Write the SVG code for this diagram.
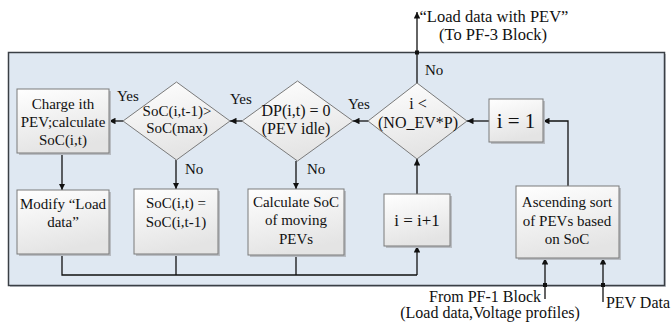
<svg xmlns="http://www.w3.org/2000/svg" width="672" height="322" viewBox="0 0 672 322" font-family="'Liberation Serif', serif">
<style>
text{font-family:'Liberation Serif',serif;font-size:15px;fill:#111}
.c{text-anchor:middle}
.box{fill:url(#g);stroke:#7a7a7a;stroke-width:1}
.sh{fill:#b8bcc2}
.ln{fill:none;stroke:#111;stroke-width:1.3}
.ar{fill:none;stroke:#111;stroke-width:1.3;marker-end:url(#ah)}
</style>
<defs>
<linearGradient id="g" x1="0" y1="0" x2="0.3" y2="1">
<stop offset="0" stop-color="#ffffff"/>
<stop offset="1" stop-color="#e4e4e4"/>
</linearGradient>
<marker id="ah" viewBox="0 0 10 10" refX="10" refY="5" markerWidth="5" markerHeight="5" orient="auto" markerUnits="strokeWidth">
<path d="M0,0 L10,5 L0,10 z" fill="#111"/>
</marker>
</defs>
<rect width="672" height="322" fill="#ffffff"/>
<g id="frame">
<rect x="10" y="54" width="656" height="233" fill="#c4c7cc"/>
<rect x="8.5" y="52.5" width="656" height="233" fill="#dfe8f2" stroke="#3a3f45" stroke-width="1.5"/>
</g>
<g id="connectors">
<path class="ar" d="M417,83 V12"/>
<rect x="415" y="50.5" width="4" height="4" fill="#111"/>
<path class="ar" d="M368,121 H353"/>
<path class="ar" d="M242,121 H230"/>
<path class="ar" d="M123,121 H109"/>
<path class="ar" d="M489,121 H467"/>
<path class="ar" d="M568,187 V121 H543"/>
<path class="ar" d="M62,153 V190"/>
<path class="ar" d="M176,160 V189"/>
<path class="ar" d="M296,161 V189"/>
<path class="ar" d="M417,194 V159"/>
<path class="ln" d="M62,254 V275 H417"/>
<path class="ln" d="M176,254 V275"/>
<path class="ln" d="M296,255 V275"/>
<path class="ar" d="M417,275 V246"/>
<path class="ar" d="M545,299 V258"/>
<path class="ar" d="M603,302 V258"/>
<rect x="543" y="283" width="4" height="4" fill="#111"/>
<rect x="601" y="283" width="4" height="4" fill="#111"/>
<text x="117" y="101">Yes</text>
<text x="230" y="104">Yes</text>
<text x="348" y="109">Yes</text>
<text x="185" y="174">No</text>
<text x="307" y="174">No</text>
<text x="425" y="75">No</text>
</g>
<g id="out-top">
<text x="494" y="22" class="c" style="font-size:16.5px">“Load data with PEV”</text>
<text x="493" y="40" class="c" style="font-size:16.5px">(To PF-3 Block)</text>
</g>
<g id="in-pf1">
<text x="541" y="302" text-anchor="end" style="font-size:16px">From PF-1 Block</text>
<text x="490" y="318" class="c" style="font-size:16px">(Load data,Voltage profiles)</text>
</g>
<g id="in-pev">
<text x="638" y="308" class="c" style="font-size:16px">PEV Data</text>
</g>
<g id="charge">
<rect class="sh" x="19" y="91" width="92" height="64"/>
<rect class="box" x="17" y="89" width="92" height="64"/>
<text x="63" y="109" class="c">Charge ith</text>
<text x="63" y="127" class="c">PEV;calculate</text>
<text x="63" y="145" class="c">SoC(i,t)</text>
</g>
<g id="d-socmax">
<path class="box" d="M176.5,82 L230,121 L176.5,160 L123,121 Z"/>
<text x="177" y="116" class="c">SoC(i,t-1)&gt;</text>
<text x="177" y="133" class="c">SoC(max)</text>
</g>
<g id="d-dp">
<path class="box" d="M297.5,81 L353,121 L297.5,161 L242,121 Z"/>
<text x="296" y="116" class="c" style="font-size:16px">DP(i,t) = 0</text>
<text x="296" y="134" class="c" style="font-size:16px">(PEV idle)</text>
</g>
<g id="d-i">
<path class="box" d="M417,83 L467,121 L417,159 L368,121 Z"/>
<text x="418" y="109" class="c" style="font-size:16px">i &lt;</text>
<text x="418" y="128" class="c" style="font-size:16px">(NO_EV*P)</text>
</g>
<g id="i1">
<rect class="sh" x="491" y="101" width="54" height="43"/>
<rect class="box" x="489" y="99" width="54" height="43"/>
<text x="516" y="128" class="c" style="font-size:21px">i = 1</text>
</g>
<g id="modify">
<rect class="sh" x="19" y="192" width="92" height="64"/>
<rect class="box" x="17" y="190" width="92" height="64"/>
<text x="63" y="209" class="c">Modify “Load</text>
<text x="63" y="227" class="c">data”</text>
</g>
<g id="soceq">
<rect class="sh" x="136" y="191" width="84" height="65"/>
<rect class="box" x="134" y="189" width="84" height="65"/>
<text x="176" y="208" class="c">SoC(i,t) =</text>
<text x="176" y="227" class="c">SoC(i,t-1)</text>
</g>
<g id="calc">
<rect class="sh" x="250" y="191" width="96" height="66"/>
<rect class="box" x="248" y="189" width="96" height="66"/>
<text x="296" y="207" class="c">Calculate SoC</text>
<text x="296" y="225" class="c">of moving</text>
<text x="296" y="244" class="c">PEVs</text>
</g>
<g id="inc">
<rect class="sh" x="386" y="196" width="66" height="52"/>
<rect class="box" x="384" y="194" width="66" height="52"/>
<text x="417" y="226" class="c" style="font-size:17px">i = i+1</text>
</g>
<g id="sort">
<rect class="sh" x="518" y="188" width="103" height="72"/>
<rect class="box" x="516" y="186" width="103" height="72"/>
<text x="567" y="207" class="c">Ascending sort</text>
<text x="567" y="226" class="c">of PEVs based</text>
<text x="567" y="244" class="c">on SoC</text>
</g>
</svg>
